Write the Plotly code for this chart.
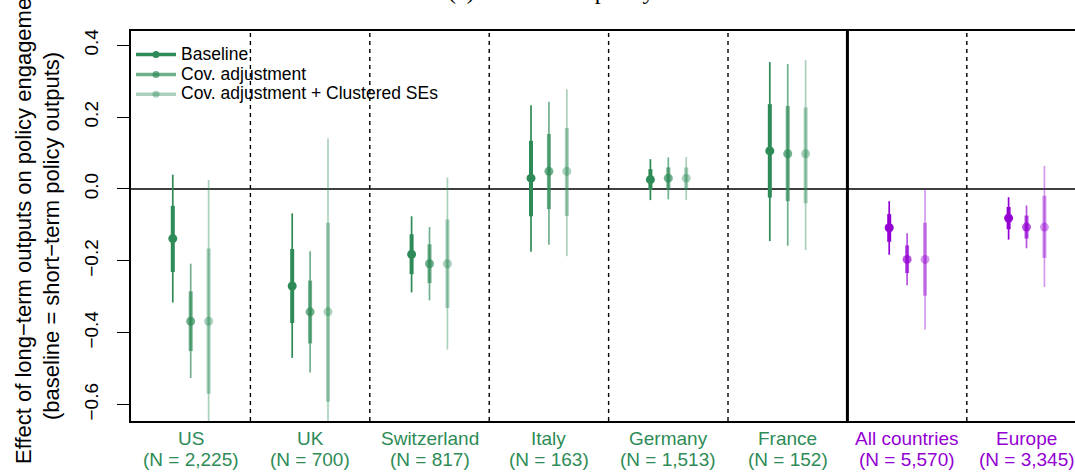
import plotly.graph_objects as go

categories = ["US", "UK", "Switzerland", "Italy", "Germany", "France", "All countries", "Europe"]
sample_n = ["2,225", "700", "817", "163", "1,513", "152", "5,570", "3,345"]
pooled = [False, False, False, False, False, False, True, True]

baseline_est = [-0.138, -0.270, -0.182, 0.030, 0.026, 0.106, -0.108, -0.081]
baseline_lo90 = [-0.231, -0.373, -0.237, -0.076, -0.003, -0.024, -0.147, -0.112]
baseline_hi90 = [-0.047, -0.167, -0.126, 0.134, 0.055, 0.236, -0.070, -0.050]
baseline_lo95 = [-0.316, -0.470, -0.288, -0.175, -0.031, -0.145, -0.183, -0.141]
baseline_hi95 = [0.040, -0.068, -0.076, 0.233, 0.083, 0.353, -0.034, -0.023]

cov_est = [-0.368, -0.342, -0.208, 0.049, 0.030, 0.098, -0.196, -0.106]
cov_lo90 = [-0.451, -0.430, -0.262, -0.056, -0.001, -0.034, -0.234, -0.138]
cov_hi90 = [-0.285, -0.255, -0.154, 0.153, 0.060, 0.231, -0.157, -0.074]
cov_lo95 = [-0.526, -0.511, -0.310, -0.155, -0.029, -0.158, -0.268, -0.165]
cov_hi95 = [-0.208, -0.173, -0.106, 0.243, 0.088, 0.348, -0.123, -0.046]

clu_est = [-0.368, -0.342, -0.208, 0.049, 0.030, 0.098, -0.196, -0.106]
clu_lo90 = [-0.570, -0.592, -0.331, -0.075, -0.001, -0.040, -0.297, -0.192]
clu_hi90 = [-0.166, -0.094, -0.085, 0.170, 0.060, 0.227, -0.094, -0.019]
clu_lo95 = [-0.730, -0.800, -0.447, -0.187, -0.031, -0.170, -0.391, -0.273]
clu_hi95 = [0.025, 0.141, 0.032, 0.277, 0.089, 0.359, -0.001, 0.064]

series_names = ["Baseline", "Cov. adjustment", "Cov. adjustment + Clustered SEs"]
y_ticks = [-0.6, -0.4, -0.2, 0.0, 0.2, 0.4]

GREEN = (46, 139, 87)
PURPLE = (148, 0, 211)
alphas = [1.0, 0.68, 0.40]
offsets = [-0.15, 0.0, 0.15]


def rgba(c, a):
    return "rgba(%d,%d,%d,%.2f)" % (c[0], c[1], c[2], a)


series = [
    (baseline_est, baseline_lo90, baseline_hi90, baseline_lo95, baseline_hi95),
    (cov_est, cov_lo90, cov_hi90, cov_lo95, cov_hi95),
    (clu_est, clu_lo90, clu_hi90, clu_lo95, clu_hi95),
]

fig = go.Figure()

for s, (est, lo90, hi90, lo95, hi95) in enumerate(series):
    for is_pooled, base in ((False, GREEN), (True, PURPLE)):
        idx = [i for i in range(len(categories)) if pooled[i] == is_pooled]
        xs = [i + offsets[s] for i in idx]
        ys = [est[i] for i in idx]
        col = rgba(base, alphas[s])
        # thin (95%) interval
        fig.add_trace(go.Scatter(
            x=xs, y=ys, mode="markers",
            marker=dict(size=1, color="rgba(0,0,0,0)"),
            error_y=dict(type="data", symmetric=False,
                         array=[hi95[i] - est[i] for i in idx],
                         arrayminus=[est[i] - lo95[i] for i in idx],
                         color=col, thickness=1.7, width=0),
            showlegend=False, hoverinfo="skip"))
        # thick (90%) interval + point
        fig.add_trace(go.Scatter(
            x=xs, y=ys, mode="markers",
            marker=dict(size=9, color=col, line=dict(width=0)),
            error_y=dict(type="data", symmetric=False,
                         array=[hi90[i] - est[i] for i in idx],
                         arrayminus=[est[i] - lo90[i] for i in idx],
                         color=col, thickness=4, width=0),
            showlegend=False, hoverinfo="skip"))

# legend entries
for s, name in enumerate(series_names):
    fig.add_trace(go.Scatter(
        x=[None], y=[None], mode="lines+markers",
        name='<span style="font-size:17.5px">%s</span>' % name,
        line=dict(color=rgba(GREEN, alphas[s]), width=3.5),
        marker=dict(size=7, color=rgba(GREEN, alphas[s]))))

# group separators
n = len(categories)
for k in range(n - 1):
    xpos = k + 0.5
    if k == 5:
        fig.add_shape(type="line", xref="x", yref="paper", x0=xpos, x1=xpos, y0=0, y1=1,
                      line=dict(color="black", width=3), layer="below")
    else:
        fig.add_shape(type="line", xref="x", yref="paper", x0=xpos, x1=xpos, y0=0, y1=1,
                      line=dict(color="black", width=1.4, dash="4px,4px"), layer="below")

# zero line
fig.add_shape(type="line", xref="paper", yref="y", x0=0, x1=1, y0=0, y1=0,
              line=dict(color="black", width=1.4), layer="below")

# category labels
for i, (cat, nn) in enumerate(zip(categories, sample_n)):
    col = rgba(PURPLE if pooled[i] else GREEN, 1)
    fig.add_annotation(x=i, y=-0.013, xref="x", yref="paper", text=cat, showarrow=False,
                       xanchor="center", yanchor="top",
                       font=dict(family="Liberation Sans", size=19, color=col))
    fig.add_annotation(x=i, y=-0.066, xref="x", yref="paper", text="(N = %s)" % nn, showarrow=False,
                       xanchor="center", yanchor="top",
                       font=dict(family="Liberation Sans", size=19, color=col))

# y-axis title (two lines)
fig.add_annotation(x=(23 - 131) / 944, y=(421 - 222) / 390, xref="paper", yref="paper",
                   text="Effect of long\u2212term outputs on policy engagement",
                   textangle=-90, showarrow=False, xanchor="center", yanchor="middle",
                   font=dict(family="Liberation Sans", size=22, color="black"))
fig.add_annotation(x=(51 - 131) / 944, y=(421 - 236) / 390, xref="paper", yref="paper",
                   text="(baseline = short\u2212term policy outputs)",
                   textangle=-90, showarrow=False, xanchor="center", yanchor="middle",
                   font=dict(family="Liberation Sans", size=22, color="black"))

# clipped title
fig.add_annotation(x=(446 - 131) / 944, y=1 + (31 - 6) / 390, xref="paper", yref="paper",
                   text="(a) Short\u2013term policy outcomes", showarrow=False,
                   xanchor="left", yanchor="bottom",
                   font=dict(family="Liberation Serif", size=24, color="black"))

fig.update_layout(
    width=1075, height=472,
    margin=dict(l=131, r=0, t=31, b=51),
    paper_bgcolor="white", plot_bgcolor="white",
    showlegend=True,
    legend=dict(x=0.0, y=0.978, xanchor="left", yanchor="top", bgcolor="rgba(0,0,0,0)",
                font=dict(family="Liberation Sans", size=13, color="black"),
                tracegroupgap=0, itemwidth=40),
    xaxis=dict(range=[-0.5, 7.406], showgrid=False, zeroline=False, showticklabels=False,
               ticks="", showline=True, linecolor="black", linewidth=1.5, mirror=True),
    yaxis=dict(range=[-0.6457, 0.4396], showgrid=False, zeroline=False,
               tickvals=y_ticks, tickformat=".1f", ticks="outside", ticklen=12,
               tickwidth=1.4, tickcolor="black", tickangle=-90, ticklabelstandoff=12,
               tickfont=dict(family="Liberation Sans", size=19, color="black"),
               showline=True, linecolor="black", linewidth=1.5),
)

fig.write_html("out.html")
